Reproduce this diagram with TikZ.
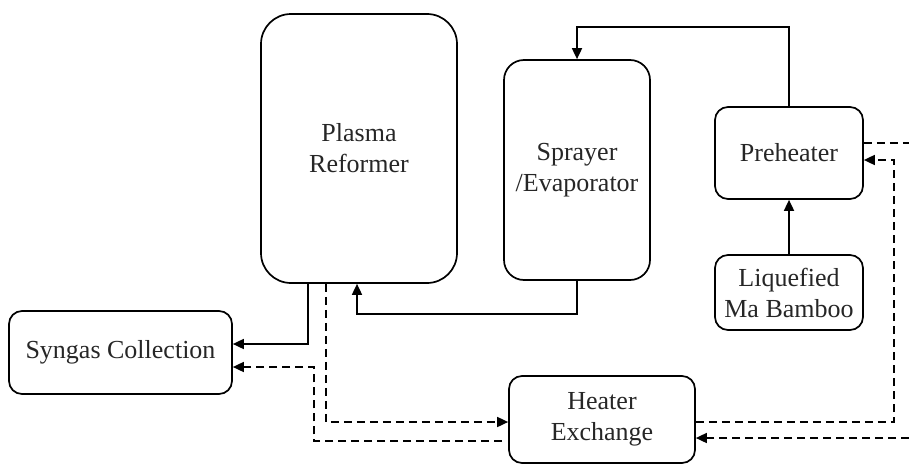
\documentclass[tikz,border=0pt]{standalone}
\usepackage{fontspec}
\setmainfont{Liberation Serif}
\usetikzlibrary{arrows.meta,calc}
\begin{document}
\begin{tikzpicture}[x=0.5pt,y=-0.5pt,
  box/.style={draw=black,line width=0.85pt,rectangle,align=center,
    font=\fontsize{13pt}{15.5pt}\selectfont,text=black!85,inner sep=0pt},
  arr/.style={line width=0.85pt,-{Triangle[length=5.5pt,width=5pt]}},
  darr/.style={arr,dash pattern=on 4pt off 2.5pt},
  dline/.style={line width=0.85pt,dash pattern=on 4pt off 2.5pt}]
\useasboundingbox (0,0) rectangle (909,466);
\node[box,rounded corners=15pt,minimum width=98pt,minimum height=134.5pt] (pr) at (359,148.5) {Plasma\\Reformer};
\node[box,rounded corners=10pt,minimum width=73pt,minimum height=110pt] (sp) at (577,170) {Sprayer\\/Evaporator};
\node[box,rounded corners=6.5pt,minimum width=74pt,minimum height=46pt] (ph) at (789,153) {Preheater};
\node[box,rounded corners=6.5pt,minimum width=74pt,minimum height=37.5pt] (lq) at (789,292.5) {Liquefied\\Ma Bamboo};
\node[box,rounded corners=6.5pt,minimum width=111.5pt,minimum height=41.5pt] (sc) at (120.5,352.5) {Syngas Collection};
\node[box,rounded corners=6.5pt,minimum width=93pt,minimum height=43.5pt] (he) at (602,419.5) {Heater\\Exchange};
\coordinate (outA) at (909,143);
\coordinate (inB) at (909,438);
% solid connectors
\draw[arr] ($(pr.south)+(-51,0)$) |- ($(sc.east)+(0,-8.5)$);
\draw[arr] (sp.south) -- ++(0,33) -| ($(pr.south)+(-2,0)$);
\draw[arr] (ph.north) -- ++(0,-79) -| (sp.north);
\draw[arr] (lq.north) -- (ph.south);
% dashed connectors
\draw[darr] ($(he.west)+(-6,21.5)$) -| ($(sc.east)+(81,14.5)$) -- ($(sc.east)+(0,14.5)$);
\draw[darr] ($(pr.south)+(-33,0)$) |- ($(he.west)+(0,2.5)$);
\draw[dline] ($(ph.east)+(0,-10)$) -- (outA);
\draw[darr] ($(he.east)+(0,2.5)$) -| ($(ph.east)+(30,7)$) -- ($(ph.east)+(0,7)$);
\draw[darr] (inB) -- ($(he.east)+(0,18.5)$);
\end{tikzpicture}
\end{document}
